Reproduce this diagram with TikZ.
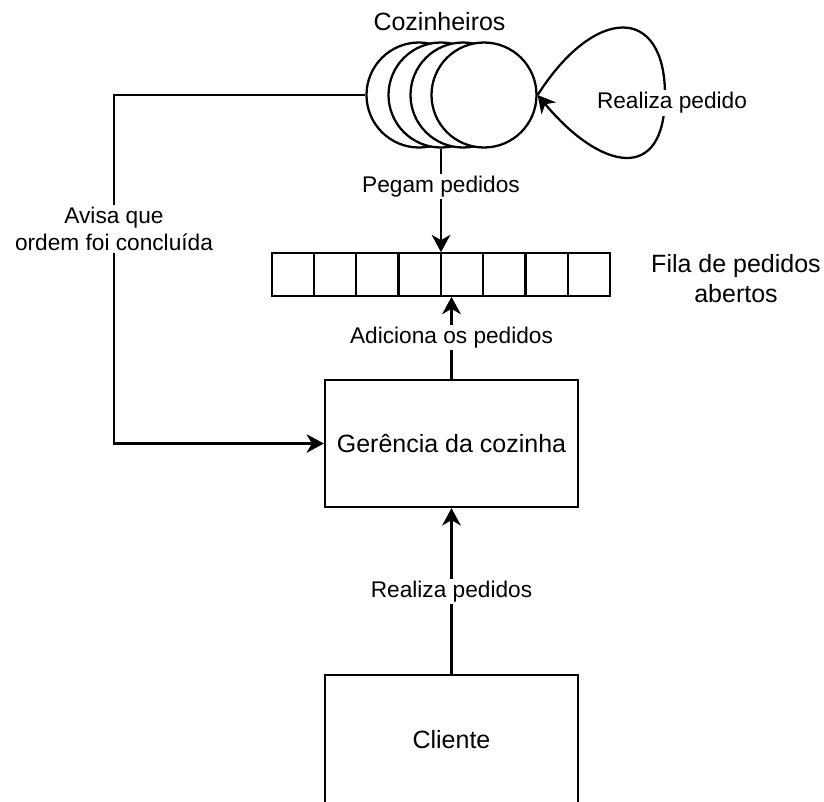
\documentclass[tikz,border=0pt]{standalone}
\usepackage{fontspec}
\setmainfont{Liberation Sans}
\usetikzlibrary{arrows.meta}
\begin{document}
\begin{tikzpicture}[x=0.75pt,y=-0.75pt,
  line width=1.7pt,
  arr/.style={-{Stealth[length=13pt,width=14pt,inset=4pt]}},
  cook/.style={circle,draw,fill=white,minimum size=78.75pt,inner sep=0pt},
  box/.style={rectangle,draw,minimum width=189.75pt,inner sep=0pt,
    font=\fontsize{18.75}{22.5}\selectfont},
  cell/.style={rectangle,draw,minimum width=31.7pt,minimum height=31.8pt,inner sep=0pt},
  elabel/.style={fill=white,inner sep=1.5pt,align=center,
    font=\fontsize{17}{20.4}\selectfont},
  ntext/.style={align=center,inner sep=0pt,font=\fontsize{18.75}{22.5}\selectfont}]
\useasboundingbox (0,0) rectangle (824,801);

% cooks: four overlapping circles
\node[cook] (c1) at (419,95) {};
\node[cook] (c2) at (441,95) {};
\node[cook] (c3) at (463,95) {};
\node[cook] (c4) at (484,95) {};
\node[ntext] (cooks) at (439.5,22) {Cozinheiros};

% queue of open orders
\foreach \i in {1,...,8}
  \node[cell] (q\i) at ({271.7+42.3*(\i-0.5)},274.5) {};
\node[ntext] (qlabel) at (736,279) {Fila de pedidos\\abertos};

% boxes
\node[box,minimum height=95.25pt] (ger) at (451.5,443.5) {Gerência da cozinha};
\node[box,minimum height=97.5pt] (cli) at (451.5,740) {Cliente};

% connectors
\coordinate (lx) at (114,95);
\draw[arr] (c1.west) -- (lx) |- (ger.west)
  node[elabel,pos=0.192] {Avisa que\\ordem foi concluída};

\draw[arr] (c2.south) -- (c2.south |- q5.north)
  node[elabel,pos=0.365] {Pegam pedidos};

\draw[arr] (ger.north) -- (ger.north |- q5.south)
  node[elabel,midway] {Adiciona os pedidos};

\draw[arr] (cli.north) -- (ger.south)
  node[elabel,midway,yshift=-0.5pt] {Realiza pedidos};

% self loop of the cooks
\draw[arr] (c4.east) .. controls (595,5) and (665,5) .. (665,95)
  .. controls (665,185) and (600,170) .. (c4.east);
\node[elabel] (loop) at (672,103) {Realiza pedido};
\end{tikzpicture}
\end{document}
